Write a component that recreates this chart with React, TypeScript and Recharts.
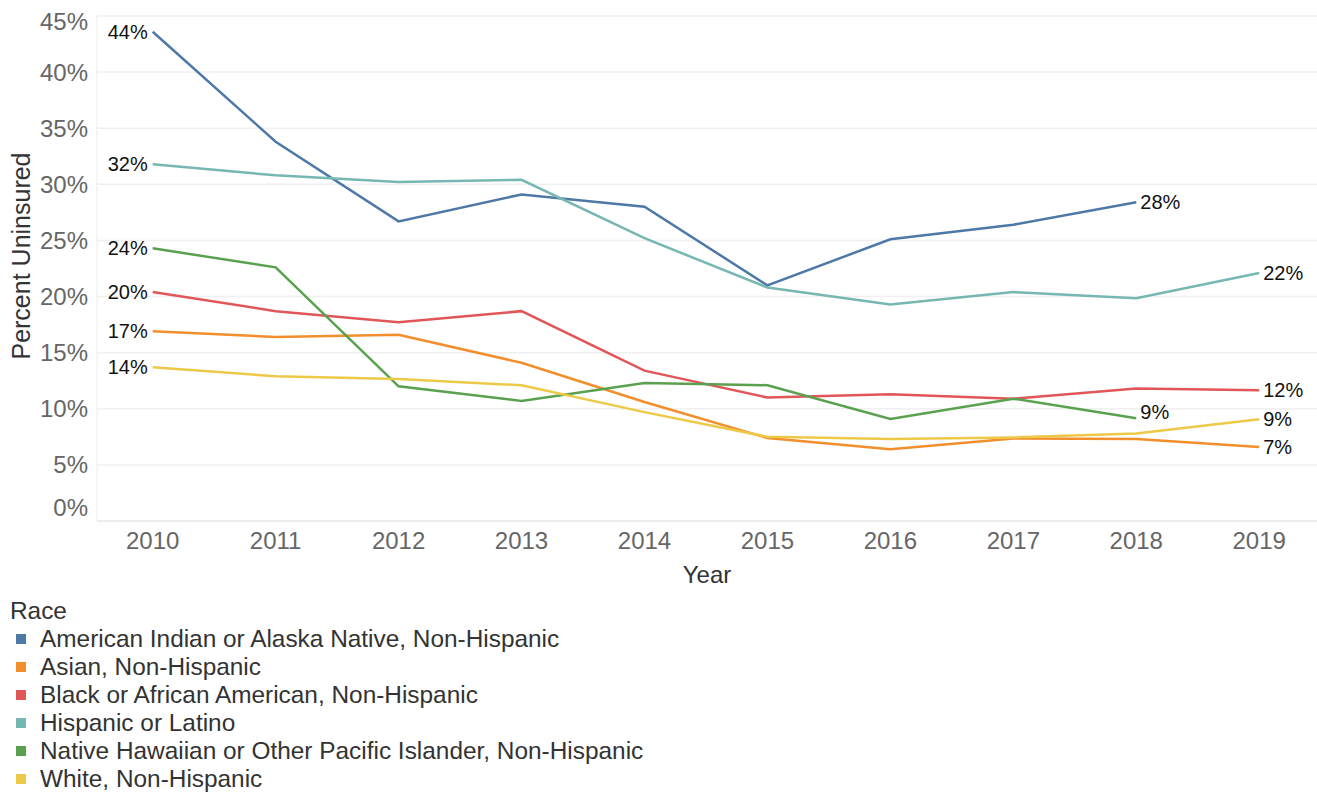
import React from 'react';
import { LineChart, Line, XAxis, YAxis, CartesianGrid, Legend, LabelList, Label } from 'recharts';

const years = [2010, 2011, 2012, 2013, 2014, 2015, 2016, 2017, 2018, 2019];
const aian = [43.6, 33.8, 26.7, 29.1, 28.0, 21.0, 25.1, 26.4, 28.4, null];
const asian = [16.9, 16.4, 16.6, 14.1, 10.6, 7.4, 6.4, 7.35, 7.3, 6.6];
const black = [20.4, 18.7, 17.7, 18.7, 13.4, 11.0, 11.3, 10.9, 11.8, 11.65];
const hispanic = [31.8, 30.8, 30.2, 30.4, 25.2, 20.8, 19.3, 20.4, 19.85, 22.1];
const nhpi = [24.3, 22.6, 12.0, 10.7, 12.3, 12.1, 9.1, 10.9, 9.15, null];
const white = [13.7, 12.9, 12.65, 12.1, 9.7, 7.5, 7.3, 7.45, 7.8, 9.06];

const yTicks = [0, 5, 10, 15, 20, 25, 30, 35, 40, 45];

const seriesNames = [
  'American Indian or Alaska Native, Non-Hispanic',
  'Asian, Non-Hispanic',
  'Black or African American, Non-Hispanic',
  'Hispanic or Latino',
  'Native Hawaiian or Other Pacific Islander, Non-Hispanic',
  'White, Non-Hispanic',
];
const seriesKeys = ['aian', 'asian', 'black', 'hispanic', 'nhpi', 'white'];
const seriesValues = [aian, asian, black, hispanic, nhpi, white];
const seriesColors = ['#4e79a7', '#f28e2b', '#e15759', '#76b7b2', '#59a14f', '#edc948'];
const lastLabelDy = [0, 0, 0, 0, -6, 0];

const data = years.map((yr, i) => {
  const row: any = { year: yr };
  seriesKeys.forEach((k, s) => {
    row[k] = seriesValues[s][i];
  });
  return row;
});

const FONT = '"Liberation Sans", Arial, sans-serif';

const lastIndex = (vals: (number | null)[]) => {
  let li = -1;
  vals.forEach((v, i) => {
    if (v !== null && v !== undefined) li = i;
  });
  return li;
};

const makeLabel = (s: number) => (props: any) => {
  const { x, y, value, index } = props;
  if (value === null || value === undefined || x == null || y == null) return null;
  const vals = seriesValues[s];
  const li = lastIndex(vals);
  let idx = index;
  if (idx === undefined) {
    idx = years.findIndex((_, i) => vals[i] === value);
  }
  if (idx === 0) {
    return (
      <text x={x - 5} y={y} textAnchor="end" dominantBaseline="central" fontSize={20} fill="#111" fontFamily={FONT}>
        {Math.round(value)}%
      </text>
    );
  }
  if (idx === li) {
    return (
      <text x={x + 4} y={y + lastLabelDy[s]} textAnchor="start" dominantBaseline="central" fontSize={20} fill="#111" fontFamily={FONT}>
        {Math.round(value)}%
      </text>
    );
  }
  return null;
};

const YTick = (props: any) => {
  const { y, payload } = props;
  let dy = 0;
  if (payload.value === 0) dy = -14;
  if (payload.value === 45) dy = 5;
  return (
    <text x={88} y={y + dy} textAnchor="end" dominantBaseline="central" fontSize={24} fill="#666" fontFamily={FONT}>
      {payload.value}%
    </text>
  );
};

const XTick = (props: any) => {
  const { x, payload } = props;
  return (
    <text x={x} y={540} textAnchor="middle" dominantBaseline="central" fontSize={24} fill="#666" fontFamily={FONT}>
      {payload.value}
    </text>
  );
};

const LegendContent = () => (
  <div style={{ fontFamily: FONT, fontSize: 24.4, color: '#333', lineHeight: '28px' }}>
    <div style={{ paddingLeft: 10, height: 28 }}>Race</div>
    {seriesNames.map((n, i) => (
      <div key={n} style={{ display: 'flex', alignItems: 'center', height: 28, whiteSpace: 'nowrap' }}>
        <span style={{ display: 'inline-block', width: 10, height: 10, background: seriesColors[i], marginLeft: 16, marginRight: 14 }} />
        <span>{n}</span>
      </div>
    ))}
  </div>
);

export default function App() {
  return (
    <div style={{ position: 'absolute', left: 0, top: 0, width: 1317, height: 792, background: '#fff' }}>
      <LineChart width={1317} height={792} data={data} margin={{ top: 16, right: 0, bottom: 201, left: 0 }}>
        <CartesianGrid horizontal={true} vertical={false} stroke="#f0f0f0" strokeWidth={1.5} />
        <XAxis
          dataKey="year"
          type="number"
          domain={[2009.547, 2019.47]}
          ticks={years}
          allowDataOverflow
          height={70}
          tick={<XTick />}
          tickLine={false}
          axisLine={{ stroke: '#e6e6e6' }}
        >
          <Label value="Year" position="insideBottom" offset={0} content={() => (
            <text x={707} y={574} textAnchor="middle" dominantBaseline="central" fontSize={24} fill="#333" fontFamily={FONT}>Year</text>
          )} />
        </XAxis>
        <YAxis
          type="number"
          domain={[0, 45]}
          ticks={yTicks}
          width={97}
          tick={<YTick />}
          tickLine={false}
          axisLine={{ stroke: '#ececec' }}
          interval={0}
        >
          <Label content={() => (
            <text x={21} y={256} transform="rotate(-90 21 256)" textAnchor="middle" dominantBaseline="central" fontSize={25} fill="#333" fontFamily={FONT}>Percent Uninsured</text>
          )} />
        </YAxis>
        {seriesKeys.map((k, s) => (
          <Line
            key={k}
            type="linear"
            dataKey={k}
            name={seriesNames[s]}
            stroke={seriesColors[s]}
            strokeWidth={2.5}
            dot={false}
            activeDot={false}
            isAnimationActive={false}
            connectNulls={false}
          >
            <LabelList dataKey={k} content={makeLabel(s)} />
          </Line>
        ))}
        <Legend
          layout="vertical"
          align="center"
          verticalAlign="middle"
          wrapperStyle={{ left: 0, top: 597, width: 700 }}
          content={<LegendContent />}
        />
      </LineChart>
    </div>
  );
}
